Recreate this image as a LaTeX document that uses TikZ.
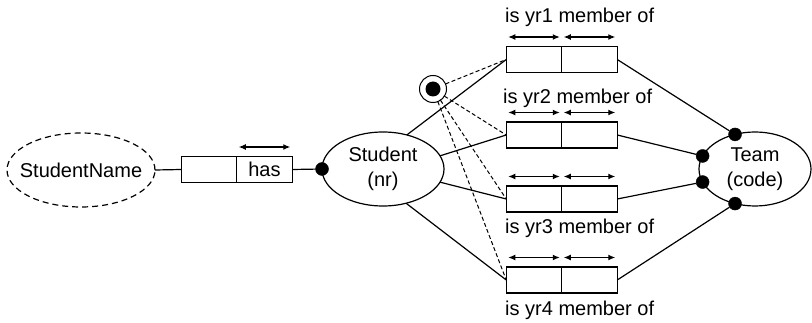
\documentclass[tikz,border=0pt]{standalone}
\usepackage{fontspec}
\setmainfont{Liberation Sans}
\usetikzlibrary{shapes.geometric,arrows.meta}
\tikzset{
  base/.style={line width=1.2pt},
  ell/.style={base,draw,ellipse,inner sep=0pt,outer sep=0pt},
  cell/.style={base,draw,rectangle,minimum width=55.5pt,minimum height=26pt,inner sep=0pt,outer sep=0pt},
  dot/.style={circle,fill=black,draw=black,minimum size=13pt,inner sep=0pt},
  txt/.style={font=\fontsize{20}{25}\selectfont,align=center,inner sep=0pt},
  span/.style={base,{Latex[length=7pt,width=6pt]}-{Latex[length=7pt,width=6pt]}},
  link/.style={base},
  dlink/.style={line width=1pt,dash pattern=on 4pt off 2.5pt},
}
\begin{document}
\begin{tikzpicture}[x=1pt,y=-1pt]
\useasboundingbox (0,0) rectangle (812,323);
% StudentName
\node[ell,dash pattern=on 6pt off 4pt,minimum width=148pt,minimum height=74pt] (sn) at (81,170) {};
\node[txt] (snt) at (sn.center) {StudentName};
% has fact type
\node[cell] (h1) at (209,169.5) {};
\node[cell,anchor=west] (h2) at (h1.east) {};
\node[txt] (ht) at (h2.center) {has};
\draw[span] ([xshift=2pt,yshift=9.5pt]h2.north west) -- ([xshift=-2pt,yshift=9.5pt]h2.north east);
% Student
\node[ell,minimum width=122pt,minimum height=74pt] (st) at (383,169) {};
\node[txt] (stt) at (st.center) {Student\\(nr)};
\node[dot] (sd) at (st.west) {};
\draw[link] (sn.east) -- (h1.west);
\draw[link] (h2.east) -- (sd);
% Team
\node[ell,minimum width=112pt,minimum height=74pt] (tm) at (755,169) {};
\node[txt] (tmt) at (tm.center) {Team\\(code)};
\node[dot] (t1) at (tm.120) {};
\node[dot] (t2) at (tm.166) {};
\node[dot] (t3) at (tm.194) {};
\node[dot] (t4) at (tm.240) {};
% role boxes
\foreach \i/\y in {1/59.5,2/135,3/199,4/280}{
  \node[cell] (r\i a) at (534,\y) {};
  \node[cell,anchor=west] (r\i b) at (r\i a.east) {};
  \draw[span] ([xshift=2pt,yshift=9.5pt]r\i a.north west) -- ([xshift=-2pt,yshift=9.5pt]r\i a.north east);
  \draw[span] ([xshift=2pt,yshift=9.5pt]r\i b.north west) -- ([xshift=-2pt,yshift=9.5pt]r\i b.north east);
}
\node[txt,anchor=west] (l1) at (505,17) {is yr1 member of};
\node[txt,anchor=west] (l2) at (503,98) {is yr2 member of};
\node[txt,anchor=west] (l3) at (505,228) {is yr3 member of};
\node[txt,anchor=west] (l4) at (505,310) {is yr4 member of};
% Student to roles
\draw[link] (st.55) -- (r1a.west);
\draw[link] (st.13) -- (r2a.west);
\draw[link] (st.-13) -- (r3a.west);
\draw[link] (st.-56) -- (r4a.west);
% roles to Team
\draw[link] (r1b.east) -- (t1);
\draw[link] (r2b.east) -- (t2);
\draw[link] (r3b.east) -- (t3);
\draw[link] (r4b.east) -- (t4);
% constraint
\node[circle,draw,line width=1pt,minimum size=27pt,inner sep=0pt,outer sep=0pt] (c) at (433,89) {};
\node[circle,fill=black,minimum size=15pt,inner sep=0pt] (cd) at (c.center) {};
\draw[dlink] (c) -- (r1a.west);
\draw[dlink] (c) -- (r2a.west);
\draw[dlink] (c) -- (r3a.west);
\draw[dlink] (c) -- (r4a.west);
\end{tikzpicture}
\end{document}
